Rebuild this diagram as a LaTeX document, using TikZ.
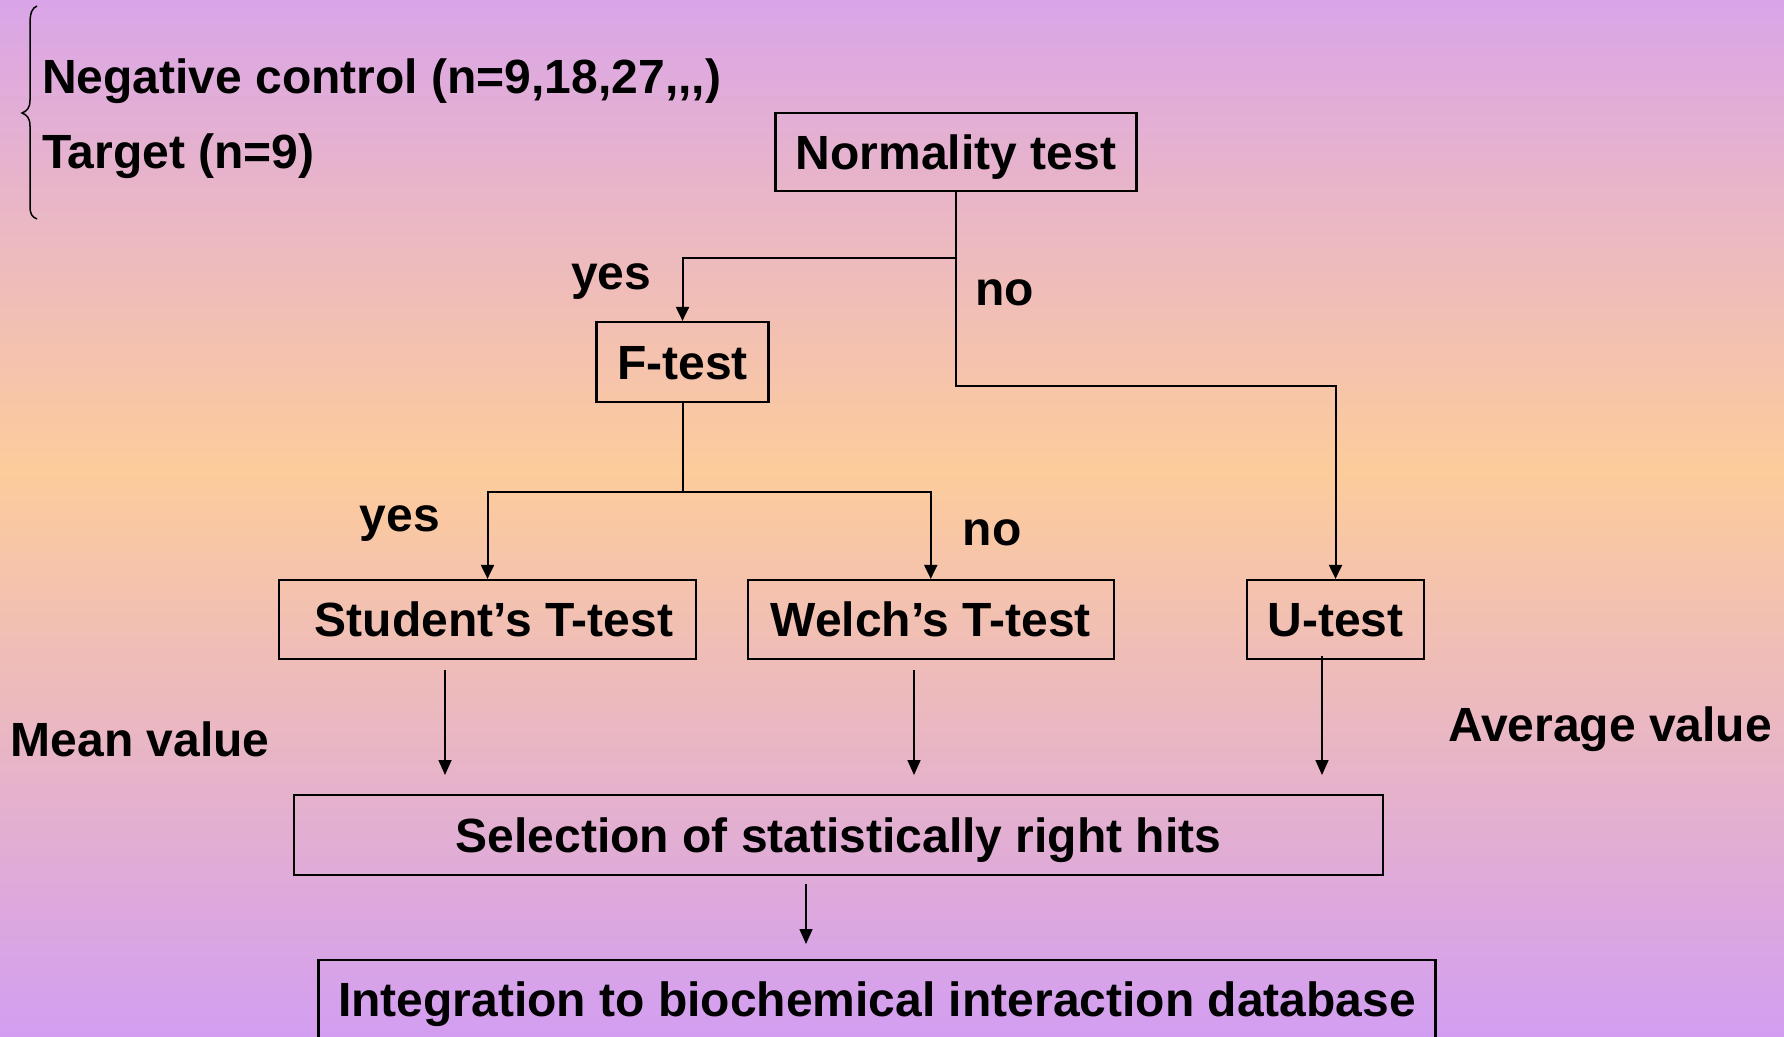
\documentclass[tikz,border=0pt]{standalone}
\usepackage{fontspec}
\setmainfont{Liberation Sans}
\usetikzlibrary{arrows.meta}

\definecolor{bgtop}{RGB}{218,165,232}
\definecolor{bgmid}{RGB}{253,204,155}
\definecolor{bgbot}{RGB}{211,158,241}

\begin{document}
\begin{tikzpicture}[x=1pt, y=-1pt, line join=miter,
  box/.style={draw, line width=2.2pt, inner sep=0pt, text height=34pt, text depth=0pt,
              font=\fontsize{48}{58}\selectfont\bfseries},
  lbl/.style={anchor=base west, inner sep=0pt, font=\fontsize{48}{58}\selectfont\bfseries},
  link/.style={line width=2pt},
  arr/.style={line width=2pt, -{Triangle[length=14pt, width=13pt]}},
  thinarr/.style={line width=1.6pt, -{Triangle[length=15pt, width=13pt]}}]

  %% ════ 背景渐变（上紫 → 中橙 → 下紫）════
  \shade[top color=bgtop, bottom color=bgmid] (0,0) rectangle (1784,471);
  \shade[top color=bgmid, bottom color=bgbot] (0,470) rectangle (1784,1036);

  %% ════ 左上角大括号 + 两行说明 ════
  \draw[line width=1.5pt] (37,6) .. controls (32,8) and (30,13) .. (30,24) -- (30,100)
    .. controls (30,108) and (27,111) .. (22,113) .. controls (27,115) and (30,118) .. (30,126)
    -- (30,206) .. controls (30,214) and (32,217) .. (37,219);
  \node[lbl] (neg) at (42,93) {Negative control (n=9,18,27,\kern0pt,\kern0pt,)};
  \node[lbl] (target) at (42,168) {Target (n=9)};

  %% ════ 方框 ════
  \node[box, minimum width=361pt, minimum height=78pt] (norm) at (956,152) {Normality test};
  \node[box, minimum width=172pt, minimum height=80pt] (ftest) at (682.5,362) {F-test};
  \node[box, minimum width=417pt, minimum height=79pt] (student) at (487.5,619.5) {\hspace*{13pt}Student’s T-test};
  \node[box, minimum width=366pt, minimum height=79pt] (welch) at (930.75,619.5) {Welch’s T-test};
  \node[box, minimum width=177pt, minimum height=79pt] (utest) at (1335.5,619.5) {U-test};
  \node[box, minimum width=1089pt, minimum height=80pt] (select) at (838.5,835) {Selection of statistically right hits};
  \node[box, minimum width=1117pt, minimum height=78pt] (integ) at (877,999) {Integration to biochemical interaction database};

  %% ════ 分支连线 ════
  \draw[arr] (norm.south) -- ++(0,65.5) -| (ftest.north);
  \draw[arr] (norm.south) -- ++(0,193.5) -| (utest.north);
  \draw[link] (ftest.south) -- ++(0,88.5) coordinate (fork);
  \draw[arr] (fork) -| (student.north);
  \draw[arr] (fork) -| (welch.north);

  %% ════ 分支标签 ════
  \node[lbl] (yes1) at (571,289) {yes};
  \node[lbl] (no1) at (975,305) {no};
  \node[lbl] (yes2) at (359.5,531.5) {yes};
  \node[lbl] (no2) at (962.5,545) {no};
  \node[lbl] (mean) at (10.5,756.5) {Mean value};
  \node[lbl] (avg) at (1448,741.5) {Average value};

  %% ════ 下方竖箭头（两端悬空）════
  \coordinate (sa) at (445,670);   \coordinate (sb) at (445,775);
  \coordinate (wa) at (914,670);   \coordinate (wb) at (914,775);
  \coordinate (ua) at (1322,656);  \coordinate (ub) at (1322,775);
  \coordinate (ia) at (806,884);   \coordinate (ib) at (806,944);
  \draw[thinarr] (sa) -- (sb);
  \draw[thinarr] (wa) -- (wb);
  \draw[thinarr] (ua) -- (ub);
  \draw[thinarr] (ia) -- (ib);

  % 钉死画布
  \pgfresetboundingbox
  \path[use as bounding box] (0,0) rectangle (1784,1036);
\end{tikzpicture}
\end{document}
